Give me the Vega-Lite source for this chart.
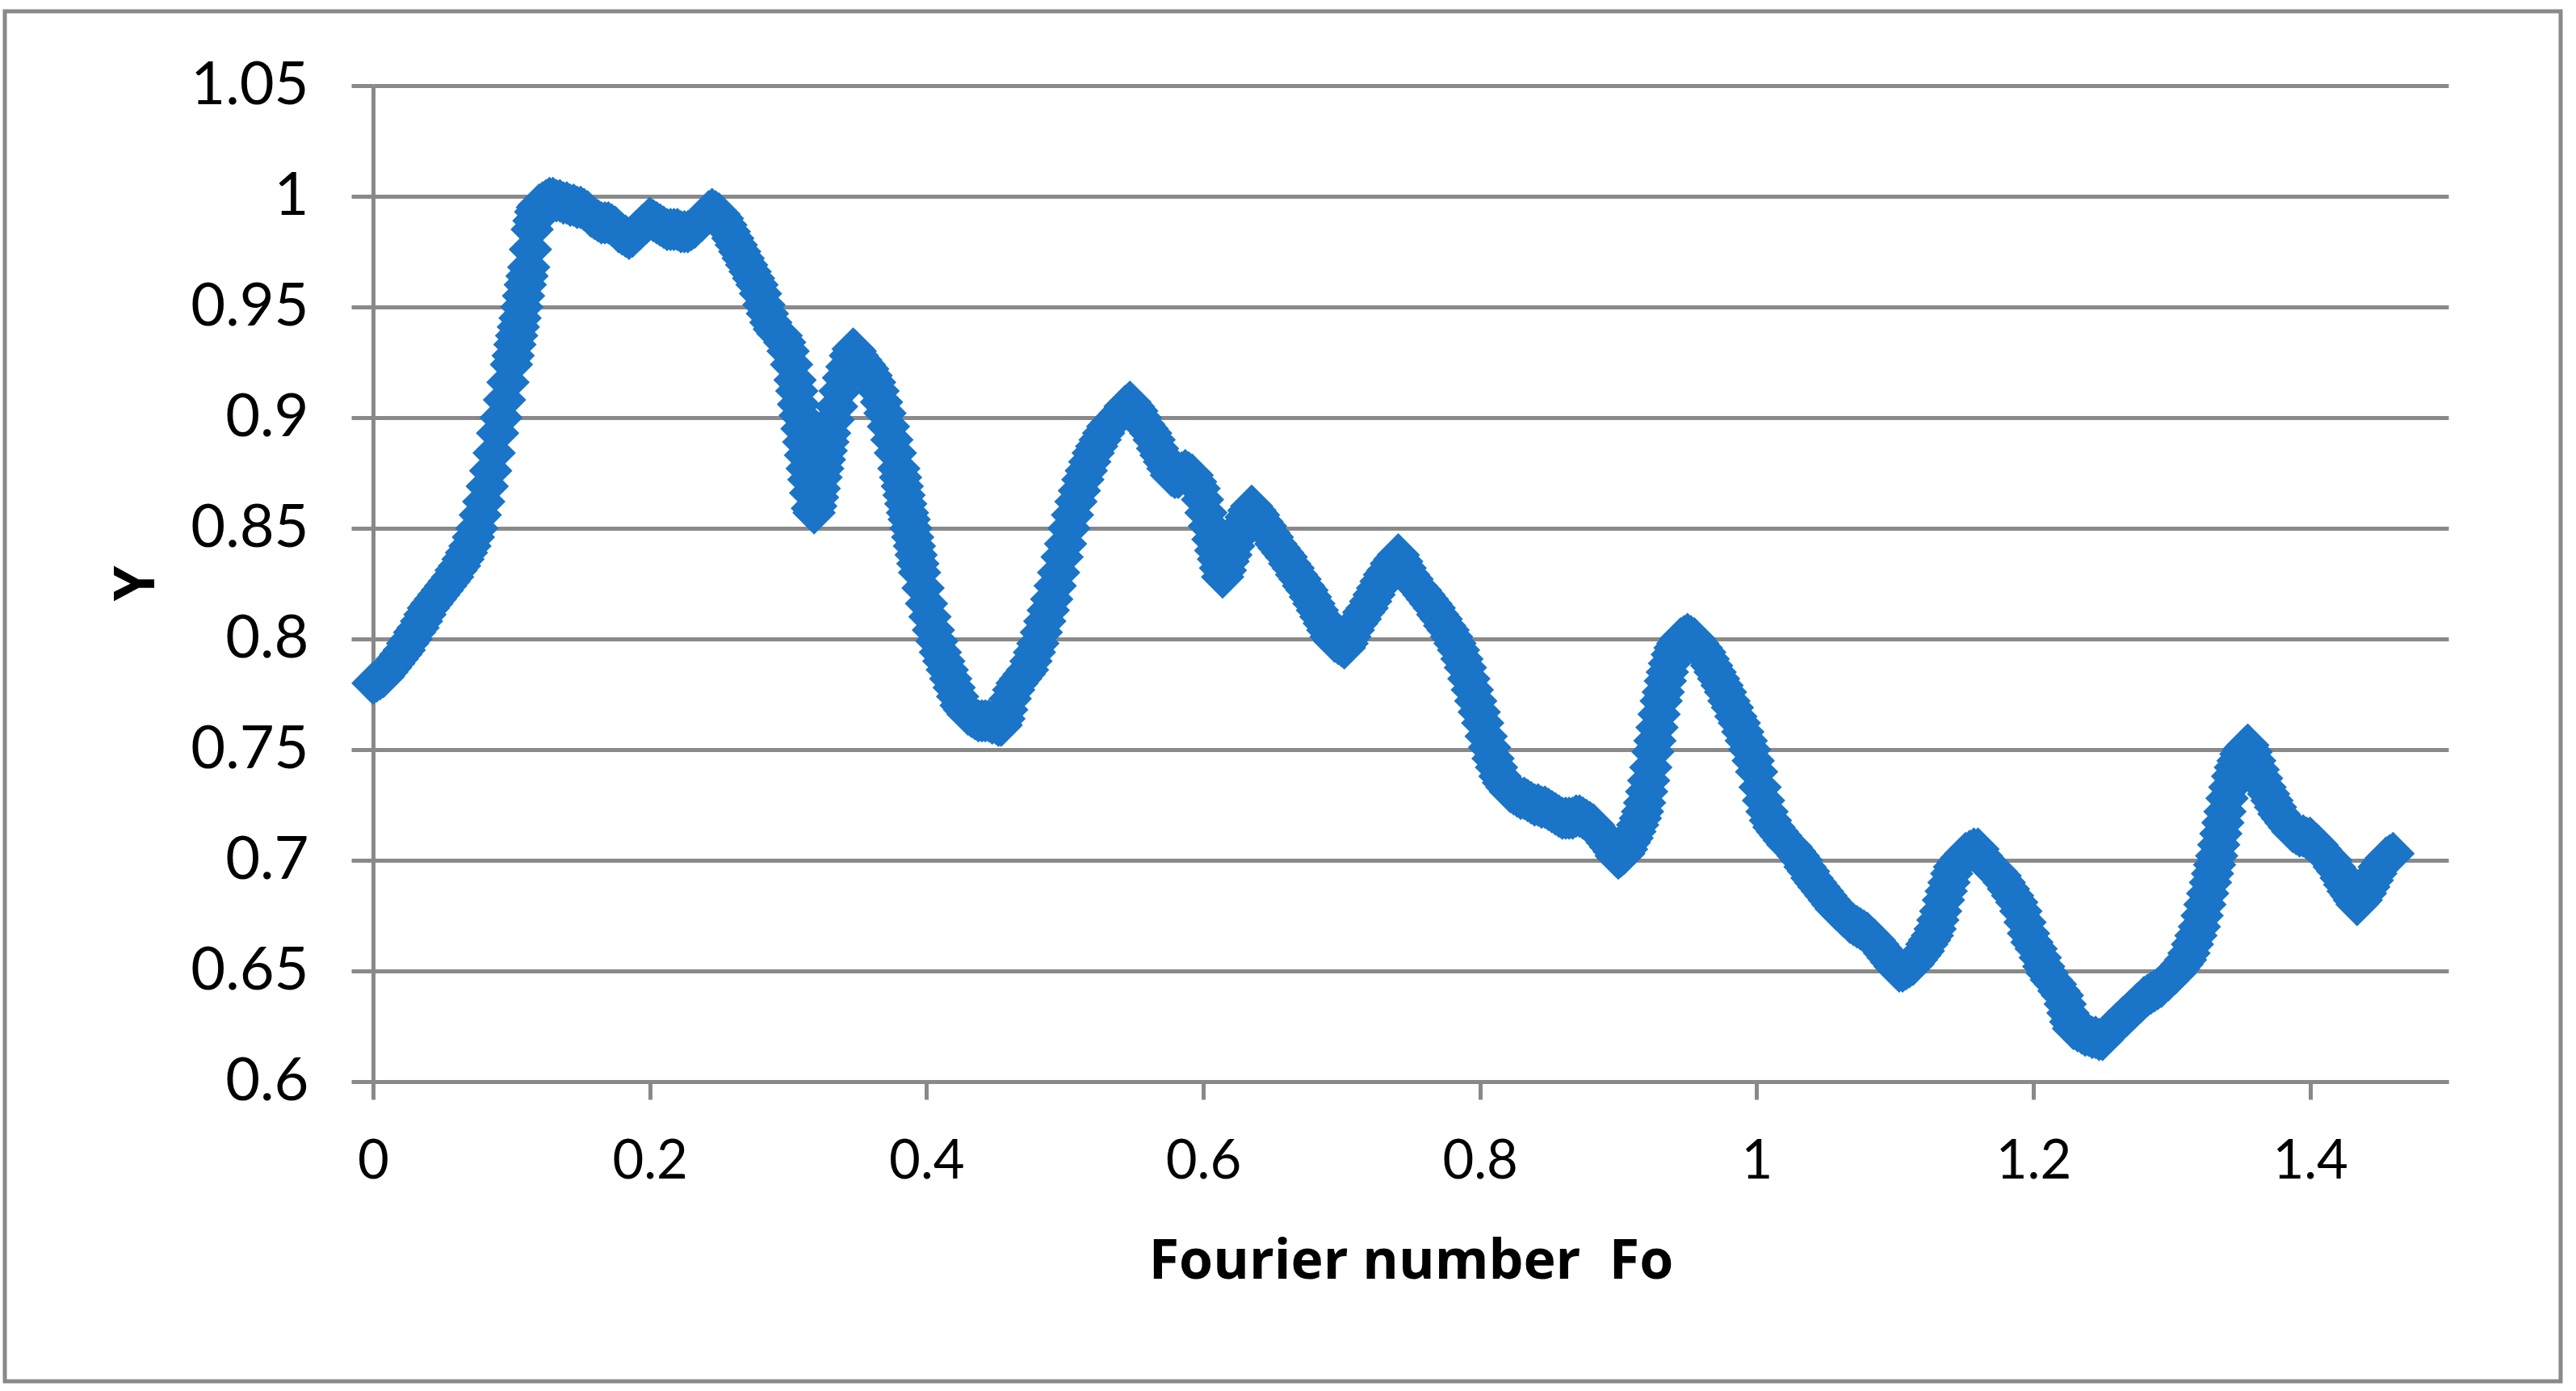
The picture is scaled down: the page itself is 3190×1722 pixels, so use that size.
{
  "$schema": "https://vega.github.io/schema/vega-lite/v6.json",
  "autosize": "none",
  "width": 3165,
  "height": 1696,
  "padding": {"left": 6, "top": 14, "right": 19, "bottom": 12},
  "background": "#ffffff",
  "view": {"stroke": "#898989", "strokeWidth": 5, "fill": "#ffffff"},
  "data": {"values": [
{"Fo":0,"Y":0.780},{"Fo":0.0025,"Y":0.781},{"Fo":0.005,"Y":0.782},{"Fo":0.0075,"Y":0.783},{"Fo":0.01,"Y":0.785},{"Fo":0.0125,"Y":0.787},{"Fo":0.015,"Y":0.789},{"Fo":0.0175,"Y":0.791},{"Fo":0.02,"Y":0.793},{"Fo":0.0225,"Y":0.795},
{"Fo":0.025,"Y":0.798},{"Fo":0.0275,"Y":0.800},{"Fo":0.03,"Y":0.803},{"Fo":0.0325,"Y":0.805},{"Fo":0.035,"Y":0.808},{"Fo":0.0375,"Y":0.811},{"Fo":0.04,"Y":0.814},{"Fo":0.0425,"Y":0.816},{"Fo":0.045,"Y":0.818},{"Fo":0.0475,"Y":0.820},
{"Fo":0.05,"Y":0.822},{"Fo":0.0525,"Y":0.824},{"Fo":0.055,"Y":0.826},{"Fo":0.0575,"Y":0.828},{"Fo":0.06,"Y":0.831},{"Fo":0.0625,"Y":0.833},{"Fo":0.065,"Y":0.836},{"Fo":0.0675,"Y":0.839},{"Fo":0.07,"Y":0.842},{"Fo":0.0725,"Y":0.846},
{"Fo":0.075,"Y":0.850},{"Fo":0.0775,"Y":0.856},{"Fo":0.08,"Y":0.862},{"Fo":0.0825,"Y":0.869},{"Fo":0.085,"Y":0.876},{"Fo":0.0875,"Y":0.884},{"Fo":0.09,"Y":0.893},{"Fo":0.0925,"Y":0.900},{"Fo":0.095,"Y":0.908},{"Fo":0.0975,"Y":0.916},
{"Fo":0.1,"Y":0.924},{"Fo":0.10125,"Y":0.928},{"Fo":0.1025,"Y":0.933},{"Fo":0.10375,"Y":0.937},{"Fo":0.105,"Y":0.941},{"Fo":0.10625,"Y":0.945},{"Fo":0.1075,"Y":0.950},{"Fo":0.10875,"Y":0.955},{"Fo":0.11,"Y":0.960},{"Fo":0.11125,"Y":0.964},
{"Fo":0.1125,"Y":0.968},{"Fo":0.11375,"Y":0.976},{"Fo":0.115,"Y":0.985},{"Fo":0.11625,"Y":0.989},{"Fo":0.1175,"Y":0.993},{"Fo":0.11875,"Y":0.995},{"Fo":0.12,"Y":0.996},{"Fo":0.1225,"Y":0.997},{"Fo":0.125,"Y":0.998},{"Fo":0.1275,"Y":0.999},
{"Fo":0.13,"Y":0.999},{"Fo":0.1325,"Y":0.998},{"Fo":0.135,"Y":0.998},{"Fo":0.1375,"Y":0.997},{"Fo":0.14,"Y":0.997},{"Fo":0.1425,"Y":0.996},{"Fo":0.145,"Y":0.996},{"Fo":0.1475,"Y":0.995},{"Fo":0.15,"Y":0.995},{"Fo":0.1525,"Y":0.994},
{"Fo":0.155,"Y":0.993},{"Fo":0.1575,"Y":0.991},{"Fo":0.16,"Y":0.990},{"Fo":0.1625,"Y":0.989},{"Fo":0.165,"Y":0.988},{"Fo":0.1675,"Y":0.988},{"Fo":0.17,"Y":0.988},{"Fo":0.1725,"Y":0.987},{"Fo":0.175,"Y":0.986},{"Fo":0.1775,"Y":0.984},
{"Fo":0.18,"Y":0.983},{"Fo":0.1825,"Y":0.982},{"Fo":0.185,"Y":0.981},{"Fo":0.1875,"Y":0.982},{"Fo":0.19,"Y":0.984},{"Fo":0.1925,"Y":0.985},{"Fo":0.195,"Y":0.987},{"Fo":0.1975,"Y":0.988},{"Fo":0.2,"Y":0.990},{"Fo":0.2025,"Y":0.989},
{"Fo":0.205,"Y":0.988},{"Fo":0.2075,"Y":0.987},{"Fo":0.21,"Y":0.986},{"Fo":0.2125,"Y":0.985},{"Fo":0.215,"Y":0.985},{"Fo":0.2175,"Y":0.985},{"Fo":0.22,"Y":0.985},{"Fo":0.2225,"Y":0.984},{"Fo":0.225,"Y":0.984},{"Fo":0.2275,"Y":0.984},
{"Fo":0.23,"Y":0.985},{"Fo":0.2325,"Y":0.986},{"Fo":0.235,"Y":0.988},{"Fo":0.2375,"Y":0.989},{"Fo":0.24,"Y":0.991},{"Fo":0.2425,"Y":0.993},{"Fo":0.245,"Y":0.994},{"Fo":0.2475,"Y":0.993},{"Fo":0.25,"Y":0.992},{"Fo":0.2525,"Y":0.990},
{"Fo":0.255,"Y":0.987},{"Fo":0.2575,"Y":0.984},{"Fo":0.26,"Y":0.981},{"Fo":0.2625,"Y":0.978},{"Fo":0.265,"Y":0.975},{"Fo":0.2675,"Y":0.972},{"Fo":0.27,"Y":0.969},{"Fo":0.2725,"Y":0.966},{"Fo":0.275,"Y":0.963},{"Fo":0.2775,"Y":0.960},
{"Fo":0.28,"Y":0.956},{"Fo":0.2825,"Y":0.951},{"Fo":0.285,"Y":0.947},{"Fo":0.2875,"Y":0.943},{"Fo":0.29,"Y":0.940},{"Fo":0.2925,"Y":0.938},{"Fo":0.295,"Y":0.937},{"Fo":0.2975,"Y":0.934},{"Fo":0.3,"Y":0.930},{"Fo":0.3025,"Y":0.924},
{"Fo":0.305,"Y":0.917},{"Fo":0.30625,"Y":0.912},{"Fo":0.3075,"Y":0.906},{"Fo":0.30875,"Y":0.901},{"Fo":0.31,"Y":0.895},{"Fo":0.31125,"Y":0.889},{"Fo":0.3125,"Y":0.883},{"Fo":0.31375,"Y":0.877},{"Fo":0.315,"Y":0.872},{"Fo":0.31625,"Y":0.866},
{"Fo":0.3175,"Y":0.859},{"Fo":0.31875,"Y":0.857},{"Fo":0.32,"Y":0.860},{"Fo":0.32125,"Y":0.864},{"Fo":0.3225,"Y":0.868},{"Fo":0.32375,"Y":0.873},{"Fo":0.325,"Y":0.877},{"Fo":0.32625,"Y":0.881},{"Fo":0.3275,"Y":0.885},{"Fo":0.32875,"Y":0.889},
{"Fo":0.33,"Y":0.893},{"Fo":0.3325,"Y":0.899},{"Fo":0.335,"Y":0.905},{"Fo":0.3375,"Y":0.912},{"Fo":0.34,"Y":0.918},{"Fo":0.3425,"Y":0.923},{"Fo":0.345,"Y":0.928},{"Fo":0.347,"Y":0.931},{"Fo":0.3485,"Y":0.930},{"Fo":0.35,"Y":0.928},
{"Fo":0.3525,"Y":0.926},{"Fo":0.355,"Y":0.924},{"Fo":0.3575,"Y":0.922},{"Fo":0.36,"Y":0.919},{"Fo":0.3625,"Y":0.916},{"Fo":0.365,"Y":0.912},{"Fo":0.3675,"Y":0.907},{"Fo":0.37,"Y":0.902},{"Fo":0.3725,"Y":0.896},{"Fo":0.375,"Y":0.890},
{"Fo":0.3775,"Y":0.884},{"Fo":0.38,"Y":0.877},{"Fo":0.38125,"Y":0.873},{"Fo":0.3825,"Y":0.869},{"Fo":0.38375,"Y":0.865},{"Fo":0.385,"Y":0.861},{"Fo":0.38625,"Y":0.857},{"Fo":0.3875,"Y":0.854},{"Fo":0.38875,"Y":0.850},{"Fo":0.39,"Y":0.846},
{"Fo":0.39125,"Y":0.842},{"Fo":0.3925,"Y":0.838},{"Fo":0.39375,"Y":0.834},{"Fo":0.395,"Y":0.830},{"Fo":0.3975,"Y":0.823},{"Fo":0.4,"Y":0.816},{"Fo":0.4025,"Y":0.810},{"Fo":0.405,"Y":0.804},{"Fo":0.4075,"Y":0.799},{"Fo":0.41,"Y":0.794},
{"Fo":0.4125,"Y":0.790},{"Fo":0.415,"Y":0.786},{"Fo":0.4175,"Y":0.782},{"Fo":0.42,"Y":0.778},{"Fo":0.4225,"Y":0.774},{"Fo":0.425,"Y":0.770},{"Fo":0.4275,"Y":0.768},{"Fo":0.43,"Y":0.766},{"Fo":0.4325,"Y":0.765},{"Fo":0.435,"Y":0.764},
{"Fo":0.4375,"Y":0.763},{"Fo":0.44,"Y":0.763},{"Fo":0.4425,"Y":0.763},{"Fo":0.445,"Y":0.763},{"Fo":0.4475,"Y":0.762},{"Fo":0.45,"Y":0.762},{"Fo":0.452,"Y":0.761},{"Fo":0.454,"Y":0.761},{"Fo":0.456,"Y":0.764},{"Fo":0.458,"Y":0.768},
{"Fo":0.4605,"Y":0.773},{"Fo":0.463,"Y":0.777},{"Fo":0.4655,"Y":0.780},{"Fo":0.468,"Y":0.782},{"Fo":0.4705,"Y":0.784},{"Fo":0.473,"Y":0.786},{"Fo":0.4755,"Y":0.790},{"Fo":0.478,"Y":0.794},{"Fo":0.4805,"Y":0.798},{"Fo":0.483,"Y":0.803},
{"Fo":0.4855,"Y":0.808},{"Fo":0.488,"Y":0.813},{"Fo":0.4905,"Y":0.818},{"Fo":0.493,"Y":0.824},{"Fo":0.4955,"Y":0.830},{"Fo":0.498,"Y":0.837},{"Fo":0.5005,"Y":0.843},{"Fo":0.503,"Y":0.850},{"Fo":0.5055,"Y":0.856},{"Fo":0.508,"Y":0.862},
{"Fo":0.5105,"Y":0.867},{"Fo":0.513,"Y":0.872},{"Fo":0.5155,"Y":0.876},{"Fo":0.518,"Y":0.880},{"Fo":0.5205,"Y":0.884},{"Fo":0.523,"Y":0.887},{"Fo":0.5255,"Y":0.890},{"Fo":0.528,"Y":0.893},{"Fo":0.531,"Y":0.896},{"Fo":0.534,"Y":0.898},
{"Fo":0.537,"Y":0.900},{"Fo":0.54,"Y":0.902},{"Fo":0.5435,"Y":0.905},{"Fo":0.547,"Y":0.907},{"Fo":0.5495,"Y":0.905},{"Fo":0.552,"Y":0.903},{"Fo":0.5545,"Y":0.900},{"Fo":0.557,"Y":0.897},{"Fo":0.5595,"Y":0.895},{"Fo":0.562,"Y":0.893},
{"Fo":0.5645,"Y":0.890},{"Fo":0.567,"Y":0.886},{"Fo":0.5695,"Y":0.883},{"Fo":0.572,"Y":0.880},{"Fo":0.5745,"Y":0.877},{"Fo":0.577,"Y":0.874},{"Fo":0.5795,"Y":0.873},{"Fo":0.582,"Y":0.873},{"Fo":0.5845,"Y":0.875},{"Fo":0.587,"Y":0.876},
{"Fo":0.5895,"Y":0.875},{"Fo":0.592,"Y":0.874},{"Fo":0.5945,"Y":0.871},{"Fo":0.597,"Y":0.868},{"Fo":0.5995,"Y":0.863},{"Fo":0.602,"Y":0.857},{"Fo":0.6045,"Y":0.851},{"Fo":0.607,"Y":0.845},{"Fo":0.609,"Y":0.840},{"Fo":0.611,"Y":0.836},
{"Fo":0.6125,"Y":0.832},{"Fo":0.614,"Y":0.828},{"Fo":0.616,"Y":0.831},{"Fo":0.618,"Y":0.835},{"Fo":0.62,"Y":0.838},{"Fo":0.622,"Y":0.842},{"Fo":0.6245,"Y":0.846},{"Fo":0.627,"Y":0.849},{"Fo":0.629,"Y":0.852},{"Fo":0.631,"Y":0.855},
{"Fo":0.633,"Y":0.858},{"Fo":0.635,"Y":0.860},{"Fo":0.6375,"Y":0.858},{"Fo":0.64,"Y":0.856},{"Fo":0.6425,"Y":0.853},{"Fo":0.645,"Y":0.851},{"Fo":0.6475,"Y":0.848},{"Fo":0.65,"Y":0.846},{"Fo":0.6525,"Y":0.843},{"Fo":0.655,"Y":0.841},
{"Fo":0.6575,"Y":0.839},{"Fo":0.66,"Y":0.837},{"Fo":0.6625,"Y":0.834},{"Fo":0.665,"Y":0.832},{"Fo":0.6675,"Y":0.829},{"Fo":0.67,"Y":0.827},{"Fo":0.6725,"Y":0.824},{"Fo":0.675,"Y":0.822},{"Fo":0.6775,"Y":0.819},{"Fo":0.68,"Y":0.816},
{"Fo":0.6825,"Y":0.813},{"Fo":0.685,"Y":0.810},{"Fo":0.6875,"Y":0.807},{"Fo":0.69,"Y":0.804},{"Fo":0.6925,"Y":0.801},{"Fo":0.695,"Y":0.799},{"Fo":0.6975,"Y":0.798},{"Fo":0.7,"Y":0.797},{"Fo":0.702,"Y":0.796},{"Fo":0.704,"Y":0.798},
{"Fo":0.706,"Y":0.801},{"Fo":0.7085,"Y":0.804},{"Fo":0.711,"Y":0.807},{"Fo":0.7135,"Y":0.809},{"Fo":0.716,"Y":0.812},{"Fo":0.7185,"Y":0.814},{"Fo":0.721,"Y":0.817},{"Fo":0.7235,"Y":0.820},{"Fo":0.726,"Y":0.823},{"Fo":0.7285,"Y":0.826},
{"Fo":0.731,"Y":0.829},{"Fo":0.7335,"Y":0.831},{"Fo":0.736,"Y":0.834},{"Fo":0.7385,"Y":0.836},{"Fo":0.741,"Y":0.838},{"Fo":0.7435,"Y":0.835},{"Fo":0.746,"Y":0.832},{"Fo":0.7485,"Y":0.829},{"Fo":0.751,"Y":0.827},{"Fo":0.754,"Y":0.824},
{"Fo":0.757,"Y":0.822},{"Fo":0.7595,"Y":0.820},{"Fo":0.762,"Y":0.818},{"Fo":0.7645,"Y":0.816},{"Fo":0.767,"Y":0.814},{"Fo":0.7695,"Y":0.811},{"Fo":0.772,"Y":0.809},{"Fo":0.7745,"Y":0.806},{"Fo":0.777,"Y":0.804},{"Fo":0.7795,"Y":0.801},
{"Fo":0.782,"Y":0.798},{"Fo":0.7845,"Y":0.795},{"Fo":0.787,"Y":0.791},{"Fo":0.7895,"Y":0.787},{"Fo":0.792,"Y":0.782},{"Fo":0.7945,"Y":0.777},{"Fo":0.797,"Y":0.772},{"Fo":0.7995,"Y":0.767},{"Fo":0.802,"Y":0.762},{"Fo":0.8045,"Y":0.756},
{"Fo":0.807,"Y":0.751},{"Fo":0.8095,"Y":0.746},{"Fo":0.812,"Y":0.742},{"Fo":0.8145,"Y":0.738},{"Fo":0.817,"Y":0.735},{"Fo":0.8195,"Y":0.733},{"Fo":0.822,"Y":0.731},{"Fo":0.8245,"Y":0.730},{"Fo":0.827,"Y":0.729},{"Fo":0.8295,"Y":0.728},
{"Fo":0.832,"Y":0.728},{"Fo":0.8345,"Y":0.727},{"Fo":0.837,"Y":0.726},{"Fo":0.8395,"Y":0.725},{"Fo":0.842,"Y":0.725},{"Fo":0.8445,"Y":0.724},{"Fo":0.847,"Y":0.724},{"Fo":0.8495,"Y":0.723},{"Fo":0.852,"Y":0.722},{"Fo":0.8545,"Y":0.721},
{"Fo":0.857,"Y":0.720},{"Fo":0.8595,"Y":0.719},{"Fo":0.862,"Y":0.719},{"Fo":0.8645,"Y":0.719},{"Fo":0.867,"Y":0.719},{"Fo":0.8695,"Y":0.720},{"Fo":0.872,"Y":0.720},{"Fo":0.8745,"Y":0.719},{"Fo":0.877,"Y":0.718},{"Fo":0.8795,"Y":0.717},
{"Fo":0.882,"Y":0.716},{"Fo":0.8845,"Y":0.714},{"Fo":0.887,"Y":0.712},{"Fo":0.8895,"Y":0.710},{"Fo":0.892,"Y":0.708},{"Fo":0.8945,"Y":0.706},{"Fo":0.897,"Y":0.704},{"Fo":0.8985,"Y":0.702},{"Fo":0.9,"Y":0.701},{"Fo":0.902,"Y":0.702},
{"Fo":0.904,"Y":0.703},{"Fo":0.906,"Y":0.705},{"Fo":0.908,"Y":0.708},{"Fo":0.91,"Y":0.710},{"Fo":0.912,"Y":0.713},{"Fo":0.914,"Y":0.716},{"Fo":0.916,"Y":0.719},{"Fo":0.9175,"Y":0.722},{"Fo":0.919,"Y":0.726},{"Fo":0.9205,"Y":0.731},
{"Fo":0.922,"Y":0.736},{"Fo":0.9235,"Y":0.742},{"Fo":0.925,"Y":0.749},{"Fo":0.9265,"Y":0.754},{"Fo":0.928,"Y":0.760},{"Fo":0.9295,"Y":0.766},{"Fo":0.931,"Y":0.772},{"Fo":0.9325,"Y":0.776},{"Fo":0.934,"Y":0.781},{"Fo":0.9355,"Y":0.785},
{"Fo":0.937,"Y":0.789},{"Fo":0.939,"Y":0.793},{"Fo":0.941,"Y":0.796},{"Fo":0.943,"Y":0.798},{"Fo":0.945,"Y":0.800},{"Fo":0.9475,"Y":0.801},{"Fo":0.95,"Y":0.802},{"Fo":0.9525,"Y":0.801},{"Fo":0.955,"Y":0.800},{"Fo":0.9575,"Y":0.798},
{"Fo":0.96,"Y":0.796},{"Fo":0.9625,"Y":0.794},{"Fo":0.965,"Y":0.791},{"Fo":0.9675,"Y":0.788},{"Fo":0.97,"Y":0.785},{"Fo":0.9725,"Y":0.782},{"Fo":0.975,"Y":0.779},{"Fo":0.9775,"Y":0.776},{"Fo":0.98,"Y":0.772},{"Fo":0.9825,"Y":0.769},
{"Fo":0.985,"Y":0.765},{"Fo":0.9875,"Y":0.762},{"Fo":0.99,"Y":0.758},{"Fo":0.9925,"Y":0.754},{"Fo":0.995,"Y":0.750},{"Fo":0.9975,"Y":0.745},{"Fo":1,"Y":0.740},{"Fo":1.0025,"Y":0.733},{"Fo":1.005,"Y":0.727},{"Fo":1.0075,"Y":0.722},
{"Fo":1.01,"Y":0.718},{"Fo":1.0125,"Y":0.715},{"Fo":1.015,"Y":0.713},{"Fo":1.0175,"Y":0.711},{"Fo":1.02,"Y":0.709},{"Fo":1.0225,"Y":0.707},{"Fo":1.025,"Y":0.706},{"Fo":1.0275,"Y":0.704},{"Fo":1.03,"Y":0.702},{"Fo":1.0325,"Y":0.700},
{"Fo":1.035,"Y":0.697},{"Fo":1.0375,"Y":0.695},{"Fo":1.04,"Y":0.692},{"Fo":1.0425,"Y":0.690},{"Fo":1.045,"Y":0.688},{"Fo":1.0475,"Y":0.686},{"Fo":1.05,"Y":0.684},{"Fo":1.0525,"Y":0.682},{"Fo":1.055,"Y":0.680},{"Fo":1.0575,"Y":0.678},
{"Fo":1.06,"Y":0.677},{"Fo":1.0625,"Y":0.675},{"Fo":1.065,"Y":0.674},{"Fo":1.0675,"Y":0.672},{"Fo":1.07,"Y":0.671},{"Fo":1.0725,"Y":0.670},{"Fo":1.075,"Y":0.669},{"Fo":1.0775,"Y":0.668},{"Fo":1.08,"Y":0.667},{"Fo":1.0825,"Y":0.665},
{"Fo":1.085,"Y":0.664},{"Fo":1.0875,"Y":0.662},{"Fo":1.09,"Y":0.660},{"Fo":1.0925,"Y":0.658},{"Fo":1.095,"Y":0.656},{"Fo":1.0975,"Y":0.654},{"Fo":1.1,"Y":0.652},{"Fo":1.103,"Y":0.650},{"Fo":1.1055,"Y":0.650},{"Fo":1.108,"Y":0.651},
{"Fo":1.1105,"Y":0.652},{"Fo":1.113,"Y":0.653},{"Fo":1.1155,"Y":0.655},{"Fo":1.118,"Y":0.657},{"Fo":1.1205,"Y":0.659},{"Fo":1.123,"Y":0.662},{"Fo":1.125,"Y":0.664},{"Fo":1.127,"Y":0.666},{"Fo":1.129,"Y":0.669},{"Fo":1.131,"Y":0.673},
{"Fo":1.133,"Y":0.677},{"Fo":1.135,"Y":0.682},{"Fo":1.137,"Y":0.686},{"Fo":1.139,"Y":0.690},{"Fo":1.141,"Y":0.694},{"Fo":1.143,"Y":0.697},{"Fo":1.1455,"Y":0.699},{"Fo":1.148,"Y":0.701},{"Fo":1.151,"Y":0.703},{"Fo":1.154,"Y":0.704},
{"Fo":1.157,"Y":0.705},{"Fo":1.16,"Y":0.705},{"Fo":1.1625,"Y":0.702},{"Fo":1.165,"Y":0.700},{"Fo":1.1675,"Y":0.698},{"Fo":1.17,"Y":0.696},{"Fo":1.173,"Y":0.695},{"Fo":1.176,"Y":0.693},{"Fo":1.179,"Y":0.690},{"Fo":1.182,"Y":0.687},
{"Fo":1.185,"Y":0.684},{"Fo":1.188,"Y":0.681},{"Fo":1.191,"Y":0.677},{"Fo":1.194,"Y":0.672},{"Fo":1.1965,"Y":0.667},{"Fo":1.199,"Y":0.663},{"Fo":1.202,"Y":0.660},{"Fo":1.205,"Y":0.656},{"Fo":1.2075,"Y":0.652},{"Fo":1.21,"Y":0.649},
{"Fo":1.213,"Y":0.646},{"Fo":1.216,"Y":0.644},{"Fo":1.2185,"Y":0.641},{"Fo":1.221,"Y":0.639},{"Fo":1.223,"Y":0.635},{"Fo":1.225,"Y":0.631},{"Fo":1.227,"Y":0.627},{"Fo":1.229,"Y":0.624},{"Fo":1.232,"Y":0.623},{"Fo":1.235,"Y":0.622},
{"Fo":1.2375,"Y":0.621},{"Fo":1.24,"Y":0.621},{"Fo":1.2425,"Y":0.620},{"Fo":1.245,"Y":0.620},{"Fo":1.2475,"Y":0.619},{"Fo":1.25,"Y":0.619},{"Fo":1.2525,"Y":0.621},{"Fo":1.255,"Y":0.623},{"Fo":1.2575,"Y":0.624},{"Fo":1.26,"Y":0.626},
{"Fo":1.2625,"Y":0.627},{"Fo":1.265,"Y":0.629},{"Fo":1.2675,"Y":0.630},{"Fo":1.27,"Y":0.632},{"Fo":1.2725,"Y":0.633},{"Fo":1.275,"Y":0.635},{"Fo":1.2775,"Y":0.636},{"Fo":1.28,"Y":0.638},{"Fo":1.2825,"Y":0.639},{"Fo":1.285,"Y":0.640},
{"Fo":1.2875,"Y":0.641},{"Fo":1.29,"Y":0.642},{"Fo":1.2925,"Y":0.643},{"Fo":1.295,"Y":0.645},{"Fo":1.2975,"Y":0.646},{"Fo":1.3,"Y":0.648},{"Fo":1.3025,"Y":0.649},{"Fo":1.305,"Y":0.651},{"Fo":1.3075,"Y":0.653},{"Fo":1.31,"Y":0.655},
{"Fo":1.3125,"Y":0.658},{"Fo":1.315,"Y":0.662},{"Fo":1.3175,"Y":0.666},{"Fo":1.32,"Y":0.670},{"Fo":1.322,"Y":0.675},{"Fo":1.324,"Y":0.680},{"Fo":1.326,"Y":0.685},{"Fo":1.328,"Y":0.690},{"Fo":1.3295,"Y":0.694},{"Fo":1.331,"Y":0.698},
{"Fo":1.3325,"Y":0.702},{"Fo":1.334,"Y":0.707},{"Fo":1.3355,"Y":0.712},{"Fo":1.337,"Y":0.717},{"Fo":1.3385,"Y":0.722},{"Fo":1.34,"Y":0.728},{"Fo":1.342,"Y":0.733},{"Fo":1.344,"Y":0.738},{"Fo":1.346,"Y":0.742},{"Fo":1.348,"Y":0.745},
{"Fo":1.35,"Y":0.748},{"Fo":1.352,"Y":0.750},{"Fo":1.3535,"Y":0.751},{"Fo":1.355,"Y":0.752},{"Fo":1.3575,"Y":0.749},{"Fo":1.36,"Y":0.745},{"Fo":1.3625,"Y":0.741},{"Fo":1.365,"Y":0.737},{"Fo":1.3675,"Y":0.733},{"Fo":1.37,"Y":0.730},
{"Fo":1.3725,"Y":0.727},{"Fo":1.375,"Y":0.724},{"Fo":1.3775,"Y":0.721},{"Fo":1.38,"Y":0.719},{"Fo":1.3825,"Y":0.717},{"Fo":1.385,"Y":0.715},{"Fo":1.3875,"Y":0.713},{"Fo":1.39,"Y":0.712},{"Fo":1.3925,"Y":0.711},{"Fo":1.395,"Y":0.711},
{"Fo":1.3975,"Y":0.710},{"Fo":1.4,"Y":0.710},{"Fo":1.4025,"Y":0.708},{"Fo":1.405,"Y":0.707},{"Fo":1.4075,"Y":0.705},{"Fo":1.41,"Y":0.703},{"Fo":1.4125,"Y":0.701},{"Fo":1.415,"Y":0.700},{"Fo":1.4175,"Y":0.697},{"Fo":1.42,"Y":0.695},
{"Fo":1.4225,"Y":0.692},{"Fo":1.425,"Y":0.689},{"Fo":1.4275,"Y":0.686},{"Fo":1.43,"Y":0.684},{"Fo":1.432,"Y":0.682},{"Fo":1.434,"Y":0.680},{"Fo":1.437,"Y":0.682},{"Fo":1.44,"Y":0.685},{"Fo":1.4425,"Y":0.688},{"Fo":1.445,"Y":0.691},
{"Fo":1.4475,"Y":0.694},{"Fo":1.45,"Y":0.697},{"Fo":1.4525,"Y":0.699},{"Fo":1.455,"Y":0.701},{"Fo":1.4575,"Y":0.702},{"Fo":1.46,"Y":0.703}
  ]},
  "mark": {"type": "point", "shape": "diamond", "filled": true, "size": 2900, "color": "#1a74c8", "opacity": 1, "strokeWidth": 0},
  "encoding": {
    "x": {
      "field": "Fo", "type": "quantitative",
      "scale": {"domain": [0, 1.5], "range": [456, 3026], "nice": false, "zero": false},
      "axis": {
        "title": "Fourier number \u00a0Fo",
        "values": [0, 0.2, 0.4, 0.6, 0.8, 1, 1.2, 1.4],
        "format": ".2~g",
        "offset": -371,
        "grid": false,
        "labelFlush": false,
        "domainColor": "#898989", "domainWidth": 5,
        "tickColor": "#898989", "tickWidth": 5, "tickSize": 22,
        "labelFont": "Lato", "labelFontSize": 67, "labelColor": "#000000", "labelPadding": 44,
        "titleFont": "Open Sans", "titleFontSize": 68, "titleFontWeight": "bold", "titleColor": "#000000",
        "titleBaseline": "alphabetic", "titleY": 243, "titleX": 1741, "titleAlign": "center"
      }
    },
    "y": {
      "field": "Y", "type": "quantitative",
      "scale": {"domain": [0.6, 1.05], "range": [1325, 92], "nice": false, "zero": false},
      "axis": {
        "title": "Y",
        "values": [0.6, 0.65, 0.7, 0.75, 0.8, 0.85, 0.9, 0.95, 1, 1.05],
        "format": ".3~g",
        "offset": -456,
        "grid": true, "gridColor": "#898989", "gridWidth": 5,
        "labelFlush": false,
        "domainColor": "#898989", "domainWidth": 5,
        "tickColor": "#898989", "tickWidth": 5, "tickSize": 27,
        "labelFont": "Lato", "labelFontSize": 74, "labelColor": "#000000", "labelPadding": 53,
        "titleFont": "Open Sans", "titleFontSize": 70, "titleFontWeight": "bold", "titleColor": "#000000",
        "titleAngle": -90, "titleBaseline": "alphabetic", "titleAlign": "center",
        "titleX": -272, "titleY": 708
      }
    }
  }
}
